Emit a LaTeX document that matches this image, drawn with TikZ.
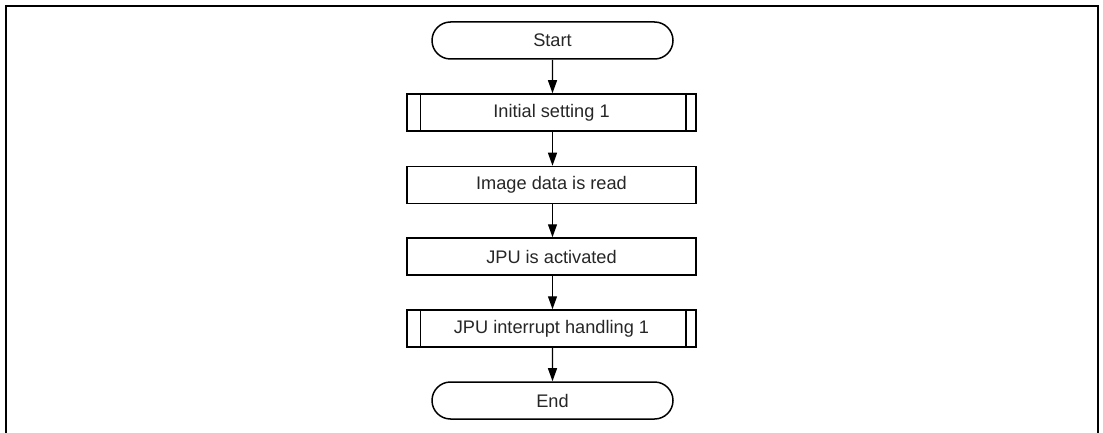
\documentclass[tikz,border=0pt]{standalone}
\usepackage{fontspec}
\setmainfont{Liberation Sans}
\usetikzlibrary{arrows.meta,shapes.misc}
\begin{document}
\begin{tikzpicture}[x=1pt,y=-1pt,
  base/.style={draw=black,line width=1.5pt,minimum width=289pt,minimum height=37pt,inner sep=0pt,font=\fontsize{18.2}{20}\selectfont,text=black!85},
  term/.style={base,rounded rectangle,minimum width=241pt},
  proc/.style={base,rectangle},
  sub/.style={base,rectangle,append after command={
     \pgfextra{\draw[line width=1.5pt] ([xshift=14pt]\tikzlastnode.north west) -- ([xshift=14pt]\tikzlastnode.south west)
       ([xshift=-11pt]\tikzlastnode.north east) -- ([xshift=-11pt]\tikzlastnode.south east);}}},
  arr/.style={line width=1.2pt,-{Triangle[length=13pt,width=9pt]}},
  frame/.style={line width=1.8pt}]
\useasboundingbox (0,0) rectangle (1103,433);
\coordinate (f1) at (6,433);
\coordinate (f2) at (6,6);
\coordinate (f3) at (1098,6);
\coordinate (f4) at (1098,433);
\draw[frame] (f1) -- (f2) -- (f3) -- (f4);
\node[term] (start) at (552.5,40.5) {Start};
\node[sub] (init) at (551.5,112.5) {Initial setting 1};
\node[proc] (read) at (551.5,185) {Image data is read};
\node[proc] (act) at (551.5,256.5) {JPU is activated};
\node[sub] (irq) at (551.5,328.5) {JPU interrupt handling 1};
\node[term] (end) at (552.5,400.5) {End};
\draw[arr] (start) -- (start|-init.north);
\draw[arr] (init.south-|start) -- (start|-read.north);
\draw[arr] (read.south-|start) -- (start|-act.north);
\draw[arr] (act.south-|start) -- (start|-irq.north);
\draw[arr] (irq.south-|start) -- (end);
\end{tikzpicture}
\end{document}
